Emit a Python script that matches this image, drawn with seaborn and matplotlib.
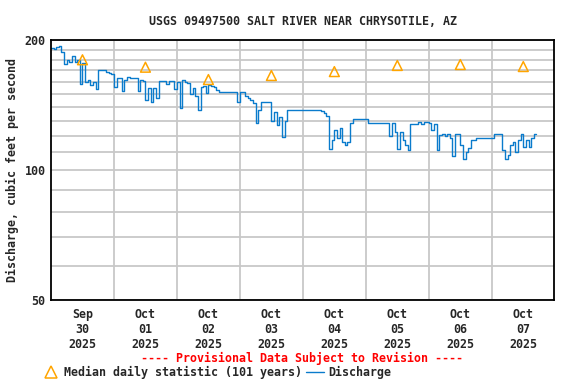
import pandas as pd
import matplotlib
matplotlib.use('Agg')
import matplotlib.pyplot as plt
import matplotlib.ticker as mticker
import matplotlib.dates as mdates
from matplotlib.lines import Line2D
import seaborn as sns

# Hourly discharge, cfs, starting Sep 30 2025 00:00
discharge = [
    192, 191, 193, 194, 188, 176, 180, 178, 184, 178, 180, 158,
    177, 160, 162, 157, 160, 154, 170.5, 170.5, 170.5, 168.6, 167.7, 166.8,
    156, 163, 163, 152, 162, 164, 163, 163, 163, 152, 162, 160.7,
    145, 155, 144, 155, 147, 160.7, 160.5, 160.5, 158, 160.5, 160.5, 154,
    160, 139, 161.6, 160, 159, 150, 155, 148.5, 138, 156, 156.5, 151,
    157, 156.5, 156, 153.5, 151.5, 151.2, 151.2, 151.2, 151.2, 151.2, 151.2, 144,
    151.2, 151.2, 148.5, 147, 145.5, 143, 128.5, 137.7, 144, 143.5, 143.5, 143.5,
    130, 136, 127, 133, 119, 130, 137.7, 137.7, 137.7, 137.7, 137.7, 137.7,
    137.7, 137.7, 137.7, 137.7, 137.7, 137.7, 137.7, 137, 135.5, 133.3, 112, 117.5,
    124, 118.6, 125, 116, 114.5, 116, 128.5, 131, 131, 131, 131, 131,
    131, 128.5, 128.5, 128.5, 128.5, 128.5, 128.5, 128.5, 128.5, 120, 128.5, 122.5,
    112, 122.5, 117.5, 114.5, 111.3, 127.5, 127.5, 127.5, 129, 127.5, 129, 129,
    128.5, 124, 127.5, 111, 120.5, 121, 120, 121, 118.6, 108, 121.3, 121.3,
    114.5, 106, 110, 112.5, 117.5, 117.5, 118.7, 118.7, 118.7, 118.7, 118.7, 118.7,
    118.7, 121.3, 121.3, 121.3, 111, 106, 108.5, 114.5, 116, 110, 117.5, 121.3,
    113, 117.5, 113, 118.6, 121.3, 121.3,
]
median_days = ['2025-09-30', '2025-10-01', '2025-10-02', '2025-10-03',
               '2025-10-04', '2025-10-05', '2025-10-06', '2025-10-07']
median_vals = [180, 173, 162, 165.5, 169, 174.6, 175.5, 173.6]
tick_labels = ['Sep\n30\n2025', 'Oct\n01\n2025', 'Oct\n02\n2025', 'Oct\n03\n2025',
               'Oct\n04\n2025', 'Oct\n05\n2025', 'Oct\n06\n2025', 'Oct\n07\n2025']

sns.set_style('white')
plt.rcParams['font.family'] = ['DejaVu Sans Mono']
plt.rcParams['font.weight'] = 'bold'
plt.rcParams['axes.titleweight'] = 'bold'
plt.rcParams['axes.labelweight'] = 'bold'
plt.rcParams['font.size'] = 8.4

times = pd.date_range('2025-09-30 00:00', periods=len(discharge), freq='h')
flow = pd.DataFrame({'time': times, 'cfs': discharge})
med = pd.DataFrame({'time': pd.to_datetime(median_days) + pd.Timedelta(hours=12),
                    'cfs': median_vals})

blue = '#0a7bcc'
orange = '#ffa500'

fig = plt.figure(figsize=(5.76, 3.84), dpi=100)
ax = fig.add_axes([0.0885, 0.2187, 0.8735, 0.6771])

sns.lineplot(data=flow, x='time', y='cfs', ax=ax, color=blue, lw=1.0,
             drawstyle='steps-post')
ax.scatter(med['time'], med['cfs'], marker='^', s=50, facecolors='none',
           edgecolors=orange, linewidths=1.1, zorder=3)

ax.set_yscale('log')
ax.set_ylim(50, 200)
ax.set_xlim(pd.Timestamp('2025-09-30 00:00'), pd.Timestamp('2025-10-07 23:45'))
ax.yaxis.set_major_locator(mticker.FixedLocator([50, 100, 200]))
ax.yaxis.set_major_formatter(mticker.FixedFormatter(['50', '100', '200']))
ax.yaxis.set_minor_locator(mticker.FixedLocator([60, 70, 80, 90, 110, 120, 130, 140,
                                                 150, 160, 170, 180, 190]))
ax.yaxis.set_minor_formatter(mticker.NullFormatter())

# labels at noon, gridlines at midnight
day_edges = pd.date_range('2025-10-01', periods=7, freq='D')
ax.xaxis.set_major_locator(mticker.FixedLocator(mdates.date2num(med['time'])))
ax.xaxis.set_major_formatter(mticker.FixedFormatter(tick_labels))
ax.xaxis.set_minor_locator(mticker.FixedLocator(mdates.date2num(day_edges)))

ax.grid(False)
ax.grid(True, which='minor', axis='both', color='#c8c8c8', lw=1.3)
ax.grid(True, which='major', axis='y', color='#c8c8c8', lw=1.3)
ax.set_axisbelow(True)
ax.tick_params(axis='both', which='both', length=0, pad=4)
ax.tick_params(axis='x', pad=6)
for s in ax.spines.values():
    s.set_color('black')
    s.set_linewidth(1.3)

ax.set_xlabel('')
ax.set_ylabel('Discharge, cubic feet per second', labelpad=4)
ax.set_title('USGS 09497500 SALT RIVER NEAR CHRYSOTILE, AZ', fontsize=8.4, pad=11)

fig.text(0.524, 0.067, '---- Provisional Data Subject to Revision ----',
         color='red', ha='center', va='center')
handles = [Line2D([], [], marker='^', ls='none', mfc='none', mec=orange, ms=8, mew=1.1),
           Line2D([], [], color=blue, lw=1.0)]
fig.legend(handles, ['Median daily statistic (101 years)', 'Discharge'],
           loc='center left', bbox_to_anchor=(0.065, 0.031), ncol=2, frameon=False,
           handlelength=1.6, handletextpad=0.3, columnspacing=0.3, borderaxespad=0)

fig.savefig('out.png', dpi=100)
